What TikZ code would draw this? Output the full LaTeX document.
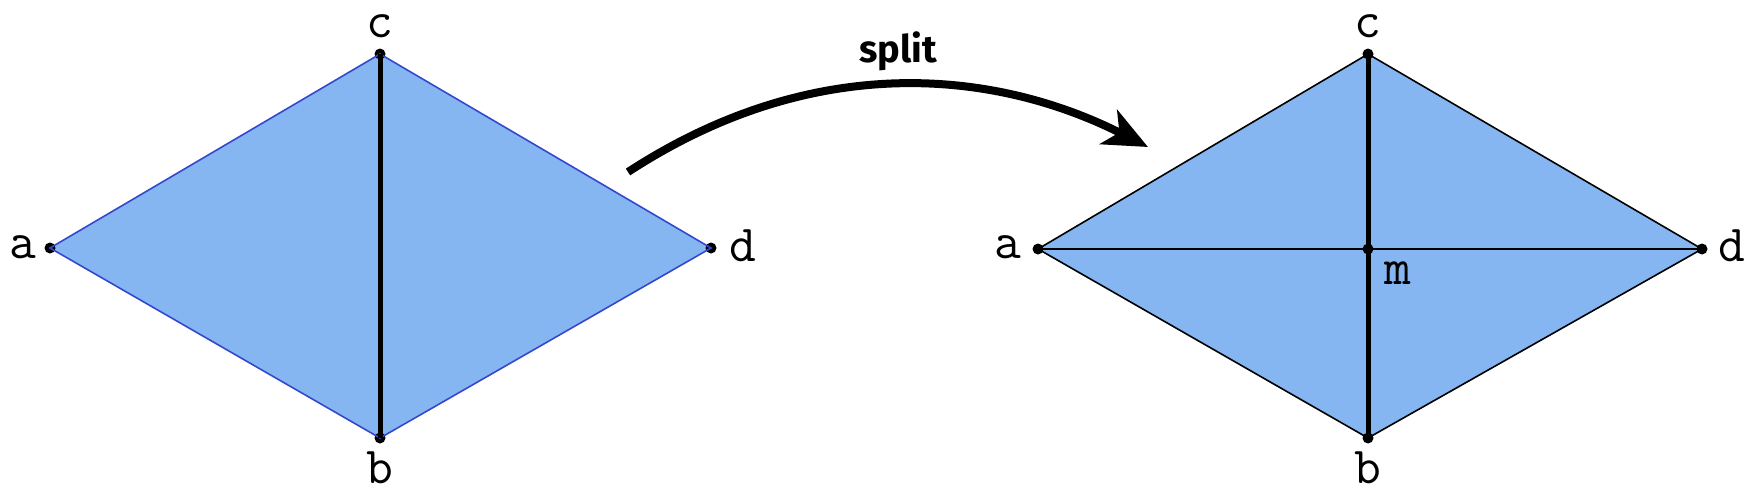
\documentclass[tikz,border=0pt]{standalone}
\usepackage{fontspec}
\newfontfamily\splitfont{Fira Sans}
\usetikzlibrary{arrows.meta}
\definecolor{tri}{RGB}{134,182,242}
\definecolor{edgeblue}{RGB}{52,72,205}
\tikzset{
  vtx/.style={circle,fill=black,inner sep=0pt,minimum size=11pt},
  lbl/.style={font=\fontsize{52}{60}\selectfont\ttfamily,anchor=base,inner sep=0pt},
  thickedge/.style={line width=5pt,black},
  bluerim/.style={draw=edgeblue,line width=1.6pt},
  blackrim/.style={draw=black,line width=1.6pt},
}
\begin{document}
\begin{tikzpicture}[x=1pt,y=-1pt]
\useasboundingbox (0,0) rectangle (1760,498);
% left diamond
\coordinate (la) at (50,248);
\coordinate (lc) at (380,54);
\coordinate (lb) at (380,438);
\coordinate (ld) at (711,248);
\fill[tri] (la) -- (lc) -- (ld) -- (lb) -- cycle;
\node[vtx] (dla) at (la) {};
\node[vtx] (dlc) at (lc) {};
\node[vtx] (dlb) at (lb) {};
\node[vtx] (dld) at (ld) {};
\draw[bluerim] (la) -- (lc) -- (ld) -- (lb) -- cycle;
\draw[thickedge] (dlc.center) -- (dlb.center);
\node[lbl] (tla) at (23,258) {a};
\node[lbl] (tlc) at (380,37) {c};
\node[lbl] (tlb) at (380,483) {b};
\node[lbl] (tld) at (743,261) {d};
% right diamond
\coordinate (ra) at (1038,249);
\coordinate (rc) at (1368,54);
\coordinate (rb) at (1368,438);
\coordinate (rd) at (1702,249);
\coordinate (rm) at (1368,249);
\fill[tri] (ra) -- (rc) -- (rd) -- (rb) -- cycle;
\draw[blackrim] (ra) -- (rc) -- (rd) -- (rb) -- cycle;
\draw[black,line width=2pt] (ra) -- (rd);
\draw[thickedge] (rc) -- (rb);
\node[vtx] (dra) at (ra) {};
\node[vtx] (drc) at (rc) {};
\node[vtx] (drb) at (rb) {};
\node[vtx] (drd) at (rd) {};
\node[vtx] (drm) at (rm) {};
\node[lbl] (tra) at (1008,258) {a};
\node[lbl] (trc) at (1368,37) {c};
\node[lbl] (trb) at (1368,483) {b};
\node[lbl] (trd) at (1732,261) {d};
\node[lbl] (trm) at (1398,284) {m};
% split arrow
\coordinate (s0) at (628,172);
\coordinate (s1) at (1148,147);
\draw[line width=8pt,-{Stealth[length=44pt,width=38pt,inset=12pt]}]
  (s0) .. controls (818,48) and (1000,72) .. (s1);
\node[font=\fontsize{38}{44}\selectfont\splitfont\bfseries,anchor=base,inner sep=0pt] (split) at (898,62) {split};
\end{tikzpicture}
\end{document}
